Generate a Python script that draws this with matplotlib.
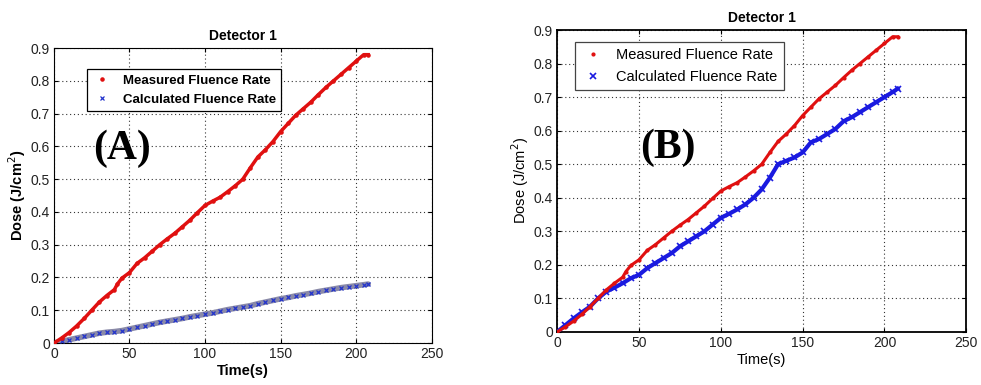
import matplotlib
matplotlib.use("Agg")
from matplotlib import pyplot as plt

plt.rcParams['font.family'] = ['Liberation Sans', 'DejaVu Sans']

# time axis (s)
t_meas = [0, 5, 10, 15, 20, 25, 30, 35, 40, 42, 45, 50, 55, 60, 65, 70, 75, 80, 85, 90,
          95, 100, 105, 110, 115, 120, 125, 130, 135, 140, 145, 150, 155, 160, 165, 170,
          175, 180, 185, 190, 195, 200, 205, 208]
measured = [0.0, 0.015, 0.032, 0.052, 0.075, 0.1, 0.125, 0.145, 0.163, 0.18, 0.198, 0.215,
            0.243, 0.26, 0.28, 0.3, 0.318, 0.335, 0.355, 0.375, 0.398, 0.42, 0.433, 0.445,
            0.462, 0.48, 0.5, 0.535, 0.568, 0.59, 0.615, 0.645, 0.67, 0.695, 0.715, 0.735,
            0.758, 0.78, 0.8, 0.82, 0.84, 0.86, 0.88, 0.88]

t_calc = [0, 5, 10, 15, 20, 25, 30, 35, 40, 45, 50, 55, 60, 65, 70, 75, 80, 85, 90, 95,
          100, 105, 110, 115, 120, 125, 130, 135, 140, 145, 150, 155, 160, 165, 170, 175,
          180, 185, 190, 195, 200, 205, 208]
calc_a = [0.0, 0.005, 0.01, 0.015, 0.02, 0.025, 0.03, 0.033, 0.035, 0.038, 0.043, 0.048,
          0.053, 0.058, 0.063, 0.067, 0.071, 0.075, 0.08, 0.084, 0.088, 0.092, 0.097, 0.102,
          0.106, 0.11, 0.114, 0.12, 0.125, 0.13, 0.135, 0.139, 0.144, 0.148, 0.152, 0.157,
          0.161, 0.165, 0.169, 0.172, 0.175, 0.178, 0.18]
calc_b = [0.0, 0.02, 0.04, 0.058, 0.075, 0.1, 0.12, 0.132, 0.145, 0.16, 0.17, 0.19, 0.205,
          0.22, 0.235, 0.255, 0.27, 0.285, 0.3, 0.32, 0.34, 0.352, 0.365, 0.38, 0.4, 0.425,
          0.46, 0.5, 0.51, 0.52, 0.535, 0.565, 0.575, 0.59, 0.605, 0.628, 0.64, 0.655, 0.67,
          0.685, 0.7, 0.715, 0.725]

xticks = [0, 50, 100, 150, 200, 250]
yticks = [0, 0.1, 0.2, 0.3, 0.4, 0.5, 0.6, 0.7, 0.8, 0.9]
ytick_labels = ['0', '0.1', '0.2', '0.3', '0.4', '0.5', '0.6', '0.7', '0.8', '0.9']

fig = plt.figure(figsize=(9.81, 3.85), dpi=100)
ax_a = fig.add_axes([0.055, 0.109, 0.385, 0.766])
ax_b = fig.add_axes([0.568, 0.138, 0.417, 0.784])


def style(ax, bold, lw):
    ax.set_xlim(0, 250)
    ax.set_ylim(0, 0.9)
    ax.set_xticks(xticks)
    ax.set_yticks(yticks)
    ax.set_yticklabels(ytick_labels)
    ax.grid(True, linestyle=(0, (1, 2.5)), color='#333333', linewidth=0.8)
    ax.tick_params(direction='in', top=True, right=True, labelsize=10, length=3, pad=3,
                   labelcolor='#222222')
    for s in ax.spines.values():
        s.set_linewidth(lw)
    w = 'bold' if bold else 'normal'
    ax.set_title('Detector 1', fontsize=10, fontweight='bold', pad=6)
    ax.set_xlabel('Time(s)', fontsize=10.5, fontweight=w, labelpad=2)
    ax.set_ylabel('Dose (J/cm$^2$)', fontsize=10.5, fontweight=w, labelpad=2)


# panel A
ax_a.plot(t_calc, calc_a, color='#8a8aa8', linewidth=4, solid_capstyle='round', zorder=2)
ax_a.plot(t_calc, calc_a, linestyle='none', marker='x', color='#2233cc', markersize=3.5,
          markeredgewidth=0.9, label='Calculated Fluence Rate', zorder=3)
ax_a.plot(t_meas, measured, color='#e01010', linewidth=2.5, marker='.', markersize=4.5,
          label='Measured Fluence Rate', zorder=4)
style(ax_a, True, 0.8)
h, l = ax_a.get_legend_handles_labels()
leg = ax_a.legend([h[1], h[0]], [l[1], l[0]], loc='upper left', bbox_to_anchor=(0.07, 0.95),
                  fancybox=False, edgecolor='black', framealpha=1, borderpad=0.4,
                  handlelength=1.5, prop={'weight': 'bold', 'size': 9.5})
leg.get_frame().set_linewidth(0.9)
for lh in leg.legend_handles:
    lh.set_linestyle('none')
    lh.set_linewidth(0)
ax_a.text(0.18, 0.66, '(A)', transform=ax_a.transAxes, fontsize=30, fontweight='bold',
          family='Liberation Serif', ha='center', va='center')

# panel B
ax_b.plot(t_calc, calc_b, color='#1a1ae0', linewidth=3, marker='x', markersize=4,
          markeredgewidth=1.2, label='Calculated Fluence Rate', zorder=3)
ax_b.plot(t_meas, measured, color='#e01010', linewidth=2.2, marker='.', markersize=4,
          label='Measured Fluence Rate', zorder=4)
style(ax_b, False, 1.3)
h, l = ax_b.get_legend_handles_labels()
leg = ax_b.legend([h[1], h[0]], [l[1], l[0]], loc='upper left', bbox_to_anchor=(0.025, 0.985),
                  fancybox=False, edgecolor='#444444', framealpha=1, borderpad=0.45,
                  handlelength=1.6, prop={'size': 10.5})
leg.get_frame().set_linewidth(0.9)
for lh in leg.legend_handles:
    lh.set_linestyle('none')
    lh.set_linewidth(0)
ax_b.text(0.27, 0.61, '(B)', transform=ax_b.transAxes, fontsize=30, fontweight='bold',
          family='Liberation Serif', ha='center', va='center')

fig.savefig('out.png', dpi=100)
